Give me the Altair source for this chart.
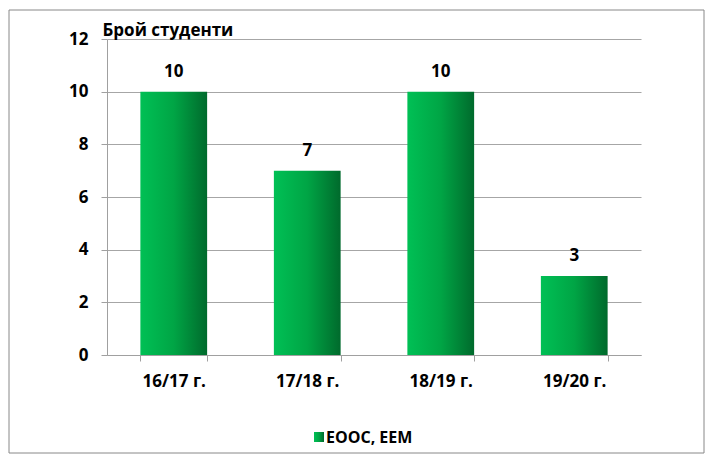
import altair as alt
import pandas as pd

categories = ["16/17 г.", "17/18 г.", "18/19 г.", "19/20 г."]
values = [10, 7, 10, 3]
series_name = "ЕООС, ЕЕМ"
y_ticks = [0, 2, 4, 6, 8, 10, 12]

df = pd.DataFrame({"cat": categories, "val": values})

FONT = "Open Sans"
GRAD = alt.Gradient(
    gradient="linear",
    stops=[alt.GradientStop(color="#00C055", offset=0),
           alt.GradientStop(color="#00A545", offset=0.5),
           alt.GradientStop(color="#006A2C", offset=1)],
    x1=0, x2=1, y1=0, y2=0,
)

W, H = 534, 316

x_enc = alt.X("cat:N", sort=categories,
              scale=alt.Scale(paddingInner=0.5, paddingOuter=0.25),
              axis=alt.Axis(title=None, labelAngle=0, labelFont=FONT, labelFontSize=17,
                            labelFontWeight="bold", labelColor="#000", labelPadding=12,
                            domainColor="#a0a0a0", tickColor="#a0a0a0", tickSize=6,
                            tickBand="extent", grid=False))
y_enc = alt.Y("val:Q", scale=alt.Scale(domain=[0, 12], nice=False),
              axis=alt.Axis(values=y_ticks, title="Брой студенти", titleAngle=0,
                            titleAlign="left", titleBaseline="alphabetic", titleX=-5, titleY=-4,
                            titleFont=FONT, titleFontSize=17, titleFontWeight="bold", titleColor="#000",
                            labelFont=FONT, labelFontSize=17, labelFontWeight="bold", labelColor="#000",
                            labelPadding=13, domainColor="#a0a0a0", tickColor="#a0a0a0", tickSize=6,
                            gridColor="#a6a6a6", gridWidth=1.2))

base = alt.Chart(df)
bars = base.mark_bar(color=GRAD).encode(x=x_enc, y=y_enc)
labels = base.mark_text(dy=-15, baseline="alphabetic", font=FONT, fontSize=17, fontWeight="bold",
                        color="#000").encode(
    x=alt.X("cat:N", sort=categories), y="val:Q", text="val:Q")

legend_df = pd.DataFrame({"name": [series_name]})
leg_sq = alt.Chart(legend_df).mark_rect(color=GRAD).encode(
    x=alt.value(207), x2=alt.value(217), y=alt.value(393), y2=alt.value(403))
leg_tx = alt.Chart(legend_df).mark_text(align="left", baseline="middle", font=FONT, fontSize=16,
                                        fontWeight="bold", color="#000").encode(
    x=alt.value(219), y=alt.value(398.5), text="name:N")
border = alt.Chart(legend_df).mark_rect(fill="transparent", stroke="#888888", strokeWidth=1).encode(
    x=alt.value(-98), x2=alt.value(597), y=alt.value(-29), y2=alt.value(414))

chart = alt.layer(border, bars, labels, leg_sq, leg_tx).properties(
    width=W, height=H,
    autosize=alt.AutoSizeParams(type="none"),
    padding={"left": 99, "top": 31, "right": 65, "bottom": 100},
    background="white",
).configure_view(stroke=None)

chart.save("out.html", embed_options={"renderer": "svg", "actions": False})
